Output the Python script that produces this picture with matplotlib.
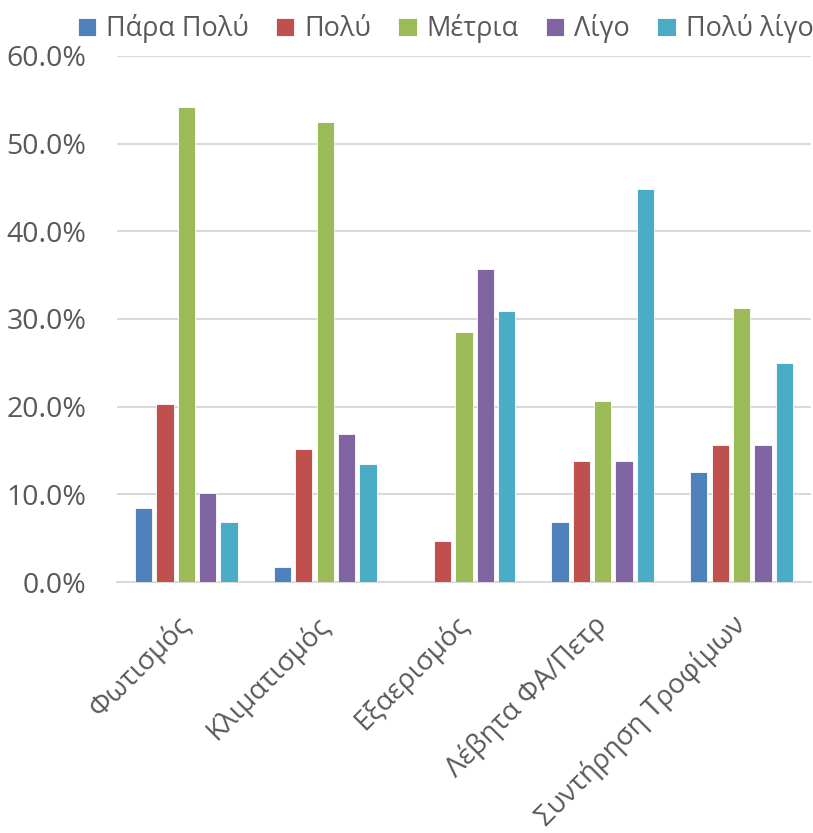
import matplotlib.pyplot as plt
import numpy as np
from matplotlib.ticker import PercentFormatter

plt.rcParams['font.family'] = ['Open Sans', 'DejaVu Sans']

categories = ["Φωτισμός", "Κλιματισμός", "Εξαερισμός", "Λέβητα ΦΑ/Πετρ", "Συντήρηση Τροφίμων"]
series_names = ["Πάρα Πολύ", "Πολύ", "Μέτρια", "Λίγο", "Πολύ λίγο"]
para_poly = [8.4, 1.7, 0.0, 6.9, 12.5]
poly = [20.3, 15.2, 4.7, 13.8, 15.6]
metria = [54.2, 52.5, 28.5, 20.7, 31.25]
ligo = [10.2, 16.9, 35.7, 13.8, 15.6]
poly_ligo = [6.8, 13.5, 30.9, 44.8, 25.0]
colors = ["#4F81BD", "#C0504D", "#9BBB59", "#8064A2", "#4BACC6"]

values = [para_poly, poly, metria, ligo, poly_ligo]
text_color = "#595959"

fig = plt.figure(figsize=(8.13, 8.33), dpi=100)
ax = fig.add_axes([0.1439, 0.3013, 0.8536, 0.6315])

x = np.arange(len(categories))
pitch = 0.154
width = 0.125
for i, (name, vals, c) in enumerate(zip(series_names, values, colors)):
    ax.bar(x + (i - 2) * pitch, vals, width, color=c, label=name,
           edgecolor="white", linewidth=0.6, zorder=3)

ax.set_ylim(0, 60)
ax.set_xlim(-0.5, 4.5)
ax.set_yticks(np.arange(0, 61, 10))
ax.yaxis.set_major_formatter(PercentFormatter(decimals=1))
ax.grid(axis="y", color="#D9D9D9", linewidth=1.5, zorder=0)
for s in ["top", "right", "left"]:
    ax.spines[s].set_visible(False)
ax.spines["bottom"].set_color("#D9D9D9")
ax.spines["bottom"].set_linewidth(1.5)
ax.tick_params(axis="both", length=0, colors=text_color)
ax.tick_params(axis="y", pad=22, labelsize=20.5)
ax.set_xticks(x)
ax.set_xticklabels(categories, rotation=45, ha="right", va="center",
                   rotation_mode="anchor", fontsize=20, color=text_color)
ax.tick_params(axis="x", pad=28)

leg = fig.legend(loc="upper center", bbox_to_anchor=(0.548, 1.012), ncol=5,
                 frameon=False, fontsize=19.5, handlelength=0.68, handleheight=0.68,
                 handletextpad=0.37, columnspacing=1.0, labelcolor=text_color)

fig.savefig("out.png", dpi=100)
